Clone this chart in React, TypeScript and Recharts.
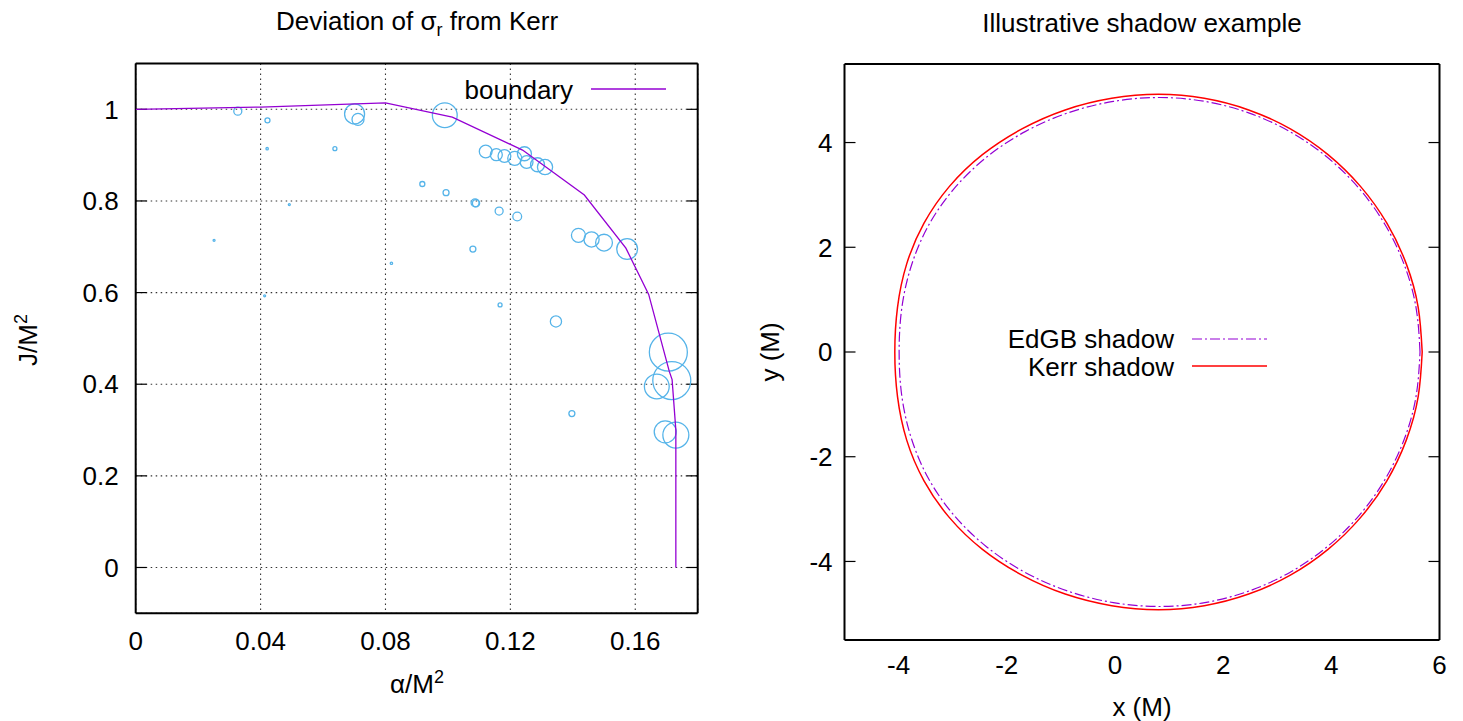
import { CartesianGrid, ComposedChart, Scatter, XAxis, YAxis } from "recharts"

const FONT = '"Liberation Sans", Arial, Helvetica, sans-serif'
const PURPLE = "#9400d3"
const BLUE = "#56b4e9"
const RED = "#ff0000"

// left panel: sampled EdGB solutions, circle radius ~ deviation of sigma_r
const alphaValues = [
  0.0327, 0.0422, 0.0421, 0.0638, 0.0701, 0.0712, 0.0918, 0.0492, 0.0251, 0.0819,
  0.0413, 0.099, 0.1121, 0.1155, 0.1181, 0.1214, 0.1245, 0.1252, 0.1287, 0.1311,
  0.0994, 0.1087, 0.109, 0.1164, 0.1222, 0.108, 0.1418, 0.146, 0.15, 0.1574,
  0.1167, 0.1346, 0.1706, 0.1717, 0.1669, 0.1397, 0.1696, 0.173,
]
const spinValues = [
  0.996, 0.976, 0.914, 0.914, 0.99, 0.978, 0.837, 0.792, 0.714, 0.664,
  0.593, 0.987, 0.908, 0.901, 0.898, 0.893, 0.903, 0.885, 0.879, 0.874,
  0.818, 0.796, 0.795, 0.778, 0.766, 0.695, 0.725, 0.716, 0.709, 0.695,
  0.573, 0.537, 0.47, 0.408, 0.395, 0.336, 0.296, 0.289,
]
const sigmaDev = [
  1, 0.63, 0.3, 0.5, 2.5, 1.5, 0.63, 0.25, 0.25, 0.3,
  0.25, 3.1, 1.6, 1.5, 1.6, 1.75, 1.75, 1.6, 1.75, 1.9,
  0.75, 1, 0.9, 1, 1.1, 0.75, 1.75, 1.9, 2.1, 2.6,
  0.5, 1.4, 4.75, 4.75, 3.1, 0.75, 2.75, 3.25,
]

const boundaryAlpha = [0, 0.04, 0.08, 0.1014, 0.1239, 0.1437, 0.157, 0.1643, 0.1709, 0.1718, 0.173, 0.173]
const boundaryJ = [1, 1.005, 1.014, 0.983, 0.911, 0.813, 0.697, 0.596, 0.428, 0.41, 0.3, 0]

const alphaTicks = [0, 0.04, 0.08, 0.12, 0.16]
const spinTicks = [0, 0.2, 0.4, 0.6, 0.8, 1]

// right panel: shadow outlines, traced counter-clockwise from the right edge
const kerrX = [
  5.68, 5.606, 5.386, 5.027, 4.539, 3.939, 3.243, 2.472, 1.651, 0.805,
  -0.06, -0.92, -1.72, -2.45, -3.06, -3.53, -3.85, -4.02, -4.07,
  -4.02, -3.85, -3.53, -3.06, -2.45, -1.72, -0.92, -0.06,
  0.805, 1.651, 2.472, 3.243, 3.939, 4.539, 5.027, 5.386, 5.606, 5.68,
]
const kerrY = [
  0, 0.854, 1.683, 2.46, 3.163, 3.769, 4.261, 4.623, 4.845, 4.92,
  4.845, 4.623, 4.261, 3.769, 3.163, 2.46, 1.683, 0.854, 0,
  -0.854, -1.683, -2.46, -3.163, -3.769, -4.261, -4.623, -4.845,
  -4.92, -4.845, -4.623, -4.261, -3.769, -3.163, -2.46, -1.683, -0.854, 0,
]
const edgbX = [
  5.64, 5.567, 5.35, 4.995, 4.513, 3.92, 3.233, 2.472, 1.661, 0.825,
  -0.03, -0.87, -1.66, -2.37, -2.97, -3.44, -3.76, -3.94, -3.99,
  -3.94, -3.76, -3.44, -2.97, -2.37, -1.66, -0.87, -0.03,
  0.825, 1.661, 2.472, 3.233, 3.92, 4.513, 4.995, 5.35, 5.567, 5.64,
]
const edgbY = [
  0, 0.844, 1.662, 2.43, 3.124, 3.723, 4.209, 4.567, 4.786, 4.86,
  4.786, 4.567, 4.209, 3.723, 3.124, 2.43, 1.662, 0.844, 0,
  -0.844, -1.662, -2.43, -3.124, -3.723, -4.209, -4.567, -4.786,
  -4.86, -4.786, -4.567, -4.209, -3.723, -3.124, -2.43, -1.662, -0.844, 0,
]

const shadowXTicks = [-4, -2, 0, 2, 4, 6]
const shadowYTicks = [-4, -2, 0, 2, 4]

const bubbles = alphaValues.map((x, i) => ({ x, y: spinValues[i], dev: sigmaDev[i] }))
const boundary = boundaryAlpha.map((x, i) => ({ x, y: boundaryJ[i] }))
const kerr = kerrX.map((x, i) => ({ x, y: kerrY[i] }))
const edgb = edgbX.map((x, i) => ({ x, y: edgbY[i] }))

const RADIUS_PX = 4
const frame = { stroke: "#000", strokeWidth: 2 }
const inTick = { stroke: "#000", strokeWidth: 1.2 }
const tickText = { fontSize: 26, fill: "#000", fontFamily: FONT }

function Bubble(props: any) {
  const { cx, cy, payload } = props
  if (cx == null || cy == null) return null
  return (
    <circle cx={cx} cy={cy} r={payload.dev * RADIUS_PX} fill="none" stroke={BLUE} strokeWidth={1.3} />
  )
}

const NoMarker = () => <g />
// tick lines only (gnuplot style inward ticks), no label
const NoLabel = () => <g />

function LeftPanel() {
  return (
    <ComposedChart
      width={740}
      height={721}
      margin={{ top: 63.5, right: 42.3, bottom: 67.7, left: 75.7 }}
    >
      <CartesianGrid stroke="#333" strokeDasharray="1.5 3.5" strokeWidth={1.1} />
      <XAxis
        type="number"
        dataKey="x"
        domain={[0, 0.18]}
        ticks={alphaTicks}
        height={40}
        tickSize={0}
        tickMargin={18}
        tickLine={false}
        axisLine={frame}
        tick={tickText}
        allowDataOverflow
      />
      <YAxis
        type="number"
        dataKey="y"
        domain={[-0.1, 1.1]}
        ticks={spinTicks}
        width={60}
        tickSize={0}
        tickMargin={17}
        tickLine={false}
        axisLine={frame}
        tick={tickText}
        allowDataOverflow
      />
      <XAxis xAxisId="top" orientation="top" mirror type="number" domain={[0, 0.18]} ticks={alphaTicks}
        tick={NoLabel} tickSize={11} tickLine={inTick} axisLine={frame} allowDataOverflow />
      <XAxis xAxisId="in" orientation="bottom" mirror type="number" domain={[0, 0.18]} ticks={alphaTicks}
        tick={NoLabel} tickSize={11} tickLine={inTick} axisLine={false} allowDataOverflow />
      <YAxis yAxisId="right" orientation="right" mirror type="number" domain={[-0.1, 1.1]} ticks={spinTicks}
        tick={NoLabel} tickSize={11} tickLine={inTick} axisLine={frame} allowDataOverflow />
      <YAxis yAxisId="in" orientation="left" mirror type="number" domain={[-0.1, 1.1]} ticks={spinTicks}
        tick={NoLabel} tickSize={11} tickLine={inTick} axisLine={false} allowDataOverflow />
      <Scatter data={bubbles} shape={Bubble} isAnimationActive={false} />
      <Scatter
        data={boundary}
        line={{ stroke: PURPLE, strokeWidth: 1.3 }}
        shape={NoMarker}
        isAnimationActive={false}
      />
    </ComposedChart>
  )
}

function RightPanel() {
  return (
    <ComposedChart
      width={723}
      height={721}
      margin={{ top: 64, right: 23.5, bottom: 41, left: 44.5 }}
    >
      <XAxis
        type="number"
        dataKey="x"
        domain={[-5, 6]}
        ticks={shadowXTicks}
        height={40}
        tickSize={0}
        tickMargin={16}
        tickLine={false}
        axisLine={frame}
        tick={tickText}
        allowDataOverflow
      />
      <YAxis
        type="number"
        dataKey="y"
        domain={[-5.5, 5.5]}
        ticks={shadowYTicks}
        width={60}
        tickSize={0}
        tickMargin={12}
        tickLine={false}
        axisLine={frame}
        tick={tickText}
        allowDataOverflow
      />
      <XAxis xAxisId="top" orientation="top" mirror type="number" domain={[-5, 6]} ticks={shadowXTicks}
        tick={NoLabel} tickSize={11} tickLine={inTick} axisLine={frame} allowDataOverflow />
      <XAxis xAxisId="in" orientation="bottom" mirror type="number" domain={[-5, 6]} ticks={shadowXTicks}
        tick={NoLabel} tickSize={11} tickLine={inTick} axisLine={false} allowDataOverflow />
      <YAxis yAxisId="right" orientation="right" mirror type="number" domain={[-5.5, 5.5]} ticks={shadowYTicks}
        tick={NoLabel} tickSize={11} tickLine={inTick} axisLine={frame} allowDataOverflow />
      <YAxis yAxisId="in" orientation="left" mirror type="number" domain={[-5.5, 5.5]} ticks={shadowYTicks}
        tick={NoLabel} tickSize={11} tickLine={inTick} axisLine={false} allowDataOverflow />
      <Scatter
        data={edgb}
        line={{ stroke: PURPLE, strokeWidth: 1.2, strokeDasharray: "10 3 2 3" }}
        lineJointType="natural"
        shape={NoMarker}
        isAnimationActive={false}
      />
      <Scatter
        data={kerr}
        line={{ stroke: RED, strokeWidth: 1.5 }}
        lineJointType="natural"
        shape={NoMarker}
        isAnimationActive={false}
      />
    </ComposedChart>
  )
}

function Labels() {
  const t = { fontFamily: FONT, fontSize: 26, fill: "#000" }
  return (
    <svg width={1463} height={721} style={{ position: "absolute", left: 0, top: 0, pointerEvents: "none" }}>
      <text x={417} y={30} textAnchor="middle" {...t}>
        Deviation of σ<tspan fontSize={18} dy={6}>r</tspan>
        <tspan dy={-6}> from Kerr</tspan>
      </text>
      <text x={417} y={693} textAnchor="middle" {...t}>
        α/M<tspan fontSize={18} dy={-10}>2</tspan>
      </text>
      <text x={0} y={0} textAnchor="middle" transform="translate(37,340) rotate(-90)" {...t}>
        J/M<tspan fontSize={18} dy={-10}>2</tspan>
      </text>
      <text x={573} y={99} textAnchor="end" {...t}>boundary</text>
      <line x1={591} x2={666} y1={89} y2={89} stroke={PURPLE} strokeWidth={1.3} />

      <text x={1142} y={32} textAnchor="middle" {...t}>Illustrative shadow example</text>
      <text x={1142} y={716} textAnchor="middle" {...t}>x (M)</text>
      <text x={0} y={0} textAnchor="middle" transform="translate(779,352) rotate(-90)" {...t}>y (M)</text>
      <text x={1174} y={348} textAnchor="end" {...t}>EdGB shadow</text>
      <line x1={1192} x2={1267} y1={339} y2={339} stroke={PURPLE} strokeWidth={1.2} strokeDasharray="10 3 2 3" />
      <text x={1174} y={375.5} textAnchor="end" {...t}>Kerr shadow</text>
      <line x1={1192} x2={1267} y1={366} y2={366} stroke={RED} strokeWidth={1.3} />
    </svg>
  )
}

export default function App() {
  return (
    <div style={{ position: "absolute", left: 0, top: 0, width: 1463, height: 721, background: "#fff", fontFamily: FONT }}>
      <div style={{ position: "absolute", left: 0, top: 0 }}>
        <LeftPanel />
      </div>
      <div style={{ position: "absolute", left: 740, top: 0 }}>
        <RightPanel />
      </div>
      <Labels />
    </div>
  )
}
